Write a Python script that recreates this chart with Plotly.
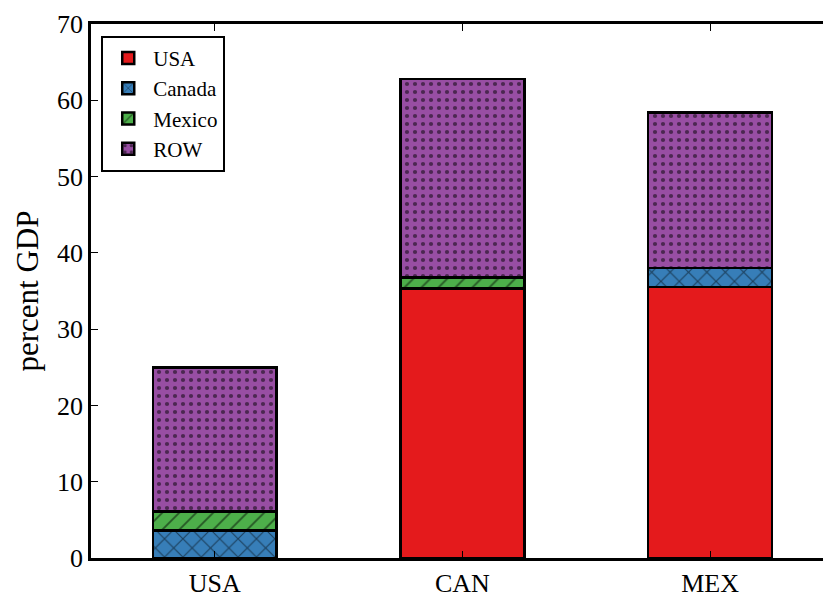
import plotly.graph_objects as go

# Trade exposure by partner, percent of GDP
countries = ["USA", "CAN", "MEX"]
usa = [0.0, 35.3, 35.5]
canada = [3.6, 0.0, 2.5]
mexico = [2.5, 1.5, 0.0]
row = [18.9, 26.0, 20.4]

# name, values, fill colour, hatch shape, hatch size, hatch solidity
series = [
    ("USA", usa, "#e41a1c", "", 10, 0.2),
    ("Canada", canada, "#377eb8", "x", 13, 0.16),
    ("Mexico", mexico, "#4daf4a", "/", 12, 0.15),
    ("ROW", row, "#984ea3", ".", 8, 0.22),
]

fig = go.Figure()
for name, vals, color, shape, psize, solid in series:
    fig.add_trace(go.Bar(
        x=[0, 1, 2], y=vals, name=name, width=0.5,
        marker=dict(
            color=color,
            line=dict(color="black", width=2.5),
            pattern=dict(shape=shape, fgcolor="black", bgcolor=color,
                         size=psize, solidity=solid, fillmode="overlay"),
        ),
    ))

font = "Liberation Serif, DejaVu Serif, serif"
fig.update_layout(
    barmode="stack",
    width=823, height=598,
    margin=dict(l=91, r=0, t=24, b=36),
    paper_bgcolor="white", plot_bgcolor="white",
    font=dict(family=font, size=26, color="black"),
    showlegend=True,
    legend=dict(
        x=0.014, y=0.978, xanchor="left", yanchor="top",
        traceorder="normal",
        bordercolor="black", borderwidth=2, bgcolor="white",
        font=dict(size=21),
        itemwidth=40,
        tracegroupgap=0,
    ),
    xaxis=dict(
        range=[-0.5, 2.456],
        tickmode="array", tickvals=[0, 1, 2], ticktext=countries,
        ticks="inside", ticklen=7, tickcolor="black", tickwidth=1,
        showline=True, linecolor="black", linewidth=2.5, mirror="ticks",
        showgrid=False, zeroline=False,
    ),
    yaxis=dict(
        range=[0, 70], dtick=10,
        ticks="inside", ticklen=7, tickcolor="black", tickwidth=1,
        showline=True, linecolor="black", linewidth=2.5,
        showgrid=False, zeroline=False,
        title=dict(text="percent GDP", standoff=10),
    ),
)

fig.write_html("out.html")
